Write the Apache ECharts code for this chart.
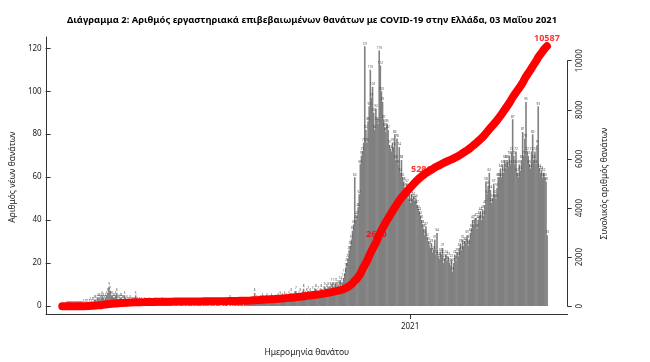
<!DOCTYPE html>
<html><head><meta charset="utf-8">
<script src="https://cdn.jsdelivr.net/npm/echarts@6/dist/echarts.min.js"></script>
<style>html,body{margin:0;padding:0;background:#fff}#c{width:650px;height:362px}</style>
</head><body><div id="c"></div>
<script>
// ---------------- DATA ----------------
const firstDate = '2020-02-26';           // first day of the series
const padBefore = 14;                      // empty days on axis before the data
const padAfter = 18;                       // empty days on axis after the data

const deaths_2020_02 = [0,0,0,0];
const deaths_2020_03 = [0,0,0,0,0,0,0,0,0,0,0,1,0,1,1,1,1,2,1,2,2,3,3,2,4,4,3,4,5,4,3];
const deaths_2020_04 = [4,5,6,9,7,5,5,4,4,5,6,3,3,4,4,3,3,5,2,3,2,2,3,2,2,2,2,5,2,1];
const deaths_2020_05 = [2,1,2,1,1,2,1,0,1,2,1,1,0,1,2,1,0,1,1,0,1,2,0,1,1,0,1,0,1,1,0];
const deaths_2020_06 = [0,1,0,1,0,0,1,0,1,0,0,1,0,0,1,0,1,0,0,1,0,0,1,0,1,0,0,1,0,1];
const deaths_2020_07 = [0,1,0,0,1,0,1,0,0,1,0,1,0,0,0,1,0,1,1,0,0,3,0,1,0,1,1,0,1,2,1];
const deaths_2020_08 = [1,1,0,2,1,2,1,2,1,1,2,1,6,2,3,1,2,3,2,4,3,2,3,4,2,3,2,4,3,2,3];
const deaths_2020_09 = [3,2,4,3,5,2,4,3,5,4,2,3,5,4,6,3,4,5,7,4,3,5,6,4,5,8,4,5,6,7];
const deaths_2020_10 = [5,6,5,7,4,6,8,5,7,5,6,8,5,7,9,6,8,9,7,9,8,11,9,8,11,9,10,9,12,9,11];
const deaths_2020_11 = [13,15,18,20,22,26,28,31,35,38,60,40,42,46,52,66,70,72,76,121,82,76,86,93,110,97,102,90,82,92];
const deaths_2020_12 = [86,85,119,112,100,95,87,83,81,85,82,75,73,72,76,74,80,68,78,66,74,62,68,60,58,55,52,57,50,53,48];
const deaths_2021_01 = [52,50,51,49,50,47,45,44,42,40,38,36,33,37,32,30,28,27,29,25,26,31,24,34,23,22,25,24,27,20,22];
const deaths_2021_02 = [24,21,23,20,19,22,16,20,24,21,25,23,27,29,26,31,28,30,29,33,28,31,34,36,40,38,39,41];
const deaths_2021_03 = [36,40,42,44,40,45,42,47,58,52,56,62,54,48,50,57,52,50,55,60,60,64,60,66,62,68,64,68,65,70,66];
const deaths_2021_04 = [72,87,70,66,72,62,60,66,63,68,81,70,78,95,72,70,66,64,72,80,68,72,66,75,93,64,62,63,60,62];
const deaths_2021_05 = [60,58,33];

const labelledDates = ['2020-12-02','2021-01-11','2021-05-03'];  // cumulative values annotated
const leftTicks = [0,20,40,60,80,100,120];
const rightTicks = [0,2000,4000,6000,8000,10000];
const yearTickDate = '2021-01-01';
const yearTickLabel = '2021';

const titleText = 'Διάγραμμα 2: Αριθμός εργαστηριακά επιβεβαιωμένων θανάτων με COVID-19 στην Ελλάδα, 03 Μαΐου 2021';
const leftName = 'Αριθμός νέων θανάτων';
const rightName = 'Συνολικός αριθμός θανάτων';
const xName = 'Ημερομηνία θανάτου';

// ---------------- BUILD ----------------
const daily = [].concat(deaths_2020_02, deaths_2020_03, deaths_2020_04, deaths_2020_05, deaths_2020_06,
  deaths_2020_07, deaths_2020_08, deaths_2020_09, deaths_2020_10, deaths_2020_11, deaths_2020_12,
  deaths_2021_01, deaths_2021_02, deaths_2021_03, deaths_2021_04, deaths_2021_05);

function dayList(start, offset, n) {
  const d = new Date(start + 'T00:00:00Z');
  d.setUTCDate(d.getUTCDate() + offset);
  const out = [];
  for (let i = 0; i < n; i++) { out.push(d.toISOString().slice(0, 10)); d.setUTCDate(d.getUTCDate() + 1); }
  return out;
}
const categories = dayList(firstDate, -padBefore, padBefore + daily.length + padAfter);
const pads = (n) => new Array(n).fill(null);
const barData = pads(padBefore).concat(daily, pads(padAfter));
let run = 0;
const cumulative = daily.map(v => (run += v));
const cumData = pads(padBefore).concat(cumulative, pads(padAfter));
const labelPoints = labelledDates.map(d => { const i = categories.indexOf(d); return [i, cumData[i]]; });

const F = '"Noto Sans", "DejaVu Sans", sans-serif';
const axisCol = '#333';
const L = 46, R = 650 - 567.7;

// fit the title to the width it has in the reference (~491px)
const TF = '"Noto Sans", "DejaVu Sans", sans-serif';
const ctx = document.createElement('canvas').getContext('2d');
ctx.font = 'bold 10px ' + TF;
const titleSize = Math.min(12, 10 * 491 / ctx.measureText(titleText).width);

const chart = echarts.init(document.getElementById('c'), null, {renderer: 'canvas'});
chart.setOption({
  animation: false,
  backgroundColor: '#fff',
  title: {
    text: titleText, left: 62, top: 11,
    textStyle: {fontFamily: TF, fontSize: titleSize, fontWeight: 'bold', color: '#000'}
  },
  grid: [
    {left: L, right: R, top: 37, bottom: 46},
    {left: L, right: R, top: 48.3, bottom: 56},
    {left: L, right: R, top: 60.7, bottom: 55.7}
  ],
  xAxis: [
    {gridIndex: 0, type: 'category', data: categories, boundaryGap: true,
     axisLine: {show: true, lineStyle: {color: axisCol, width: 1}},
     axisTick: {show: true, alignWithLabel: true, length: 5, interval: (i, v) => v === yearTickDate, lineStyle: {color: axisCol}},
     axisLabel: {show: true, interval: (i, v) => v === yearTickDate, formatter: v => v === yearTickDate ? yearTickLabel : '',
                 fontFamily: F, fontSize: 8, color: '#222', margin: 9},
     splitLine: {show: false},
     name: xName, nameLocation: 'middle', nameGap: 34,
     nameTextStyle: {fontFamily: F, fontSize: 8.5, color: '#222'}},
    {gridIndex: 1, type: 'category', data: categories, boundaryGap: true, show: false},
    {gridIndex: 2, type: 'category', data: categories, boundaryGap: true, show: false}
  ],
  yAxis: [
    {gridIndex: 0, type: 'value', min: 0, max: 1, axisLine: {show: true, lineStyle: {color: axisCol, width: 1}},
     axisTick: {show: false}, axisLabel: {show: false}, splitLine: {show: false}},
    {gridIndex: 1, type: 'value', min: leftTicks[0], max: leftTicks[leftTicks.length - 1], interval: 20,
     axisLine: {show: false}, axisTick: {show: true, length: 5, lineStyle: {color: axisCol}},
     axisLabel: {fontFamily: F, fontSize: 8, color: '#222', margin: 9}, splitLine: {show: false},
     name: leftName, nameLocation: 'middle', nameGap: 32,
     nameTextStyle: {fontFamily: F, fontSize: 8.5, color: '#222'}},
    {gridIndex: 2, type: 'value', position: 'right', min: rightTicks[0], max: rightTicks[rightTicks.length - 1], interval: 2000,
     axisLine: {show: true, lineStyle: {color: axisCol, width: 1}},
     axisTick: {show: true, length: 4, lineStyle: {color: axisCol}},
     axisLabel: {rotate: 90, fontFamily: F, fontSize: 8, color: '#222', margin: 8, formatter: v => String(v)}, splitLine: {show: false},
     name: rightName, nameLocation: 'middle', nameGap: 32, nameRotate: 90,
     nameTextStyle: {fontFamily: F, fontSize: 8.5, color: '#222'}}
  ],
  series: [
    {type: 'bar', xAxisIndex: 1, yAxisIndex: 1, data: barData, barWidth: 1.6, clip: false,
     itemStyle: {color: '#808080'},
     label: {show: true, position: 'top', distance: 1, fontSize: 3, fontFamily: F, color: '#444'}},
    {type: 'line', xAxisIndex: 2, yAxisIndex: 2, data: cumData, showSymbol: false, clip: false,
     lineStyle: {color: '#ff0000', width: 8, cap: 'round', join: 'round'}, z: 5},
    {type: 'scatter', xAxisIndex: 2, yAxisIndex: 2, data: labelPoints, symbolSize: 0, clip: false, z: 6,
     label: {show: true, position: 'top', distance: 3, formatter: p => String(p.value[1]),
             fontFamily: F, fontSize: 9, fontWeight: 'bold', color: '#ff0000'}}
  ]
});
</script></body></html>
